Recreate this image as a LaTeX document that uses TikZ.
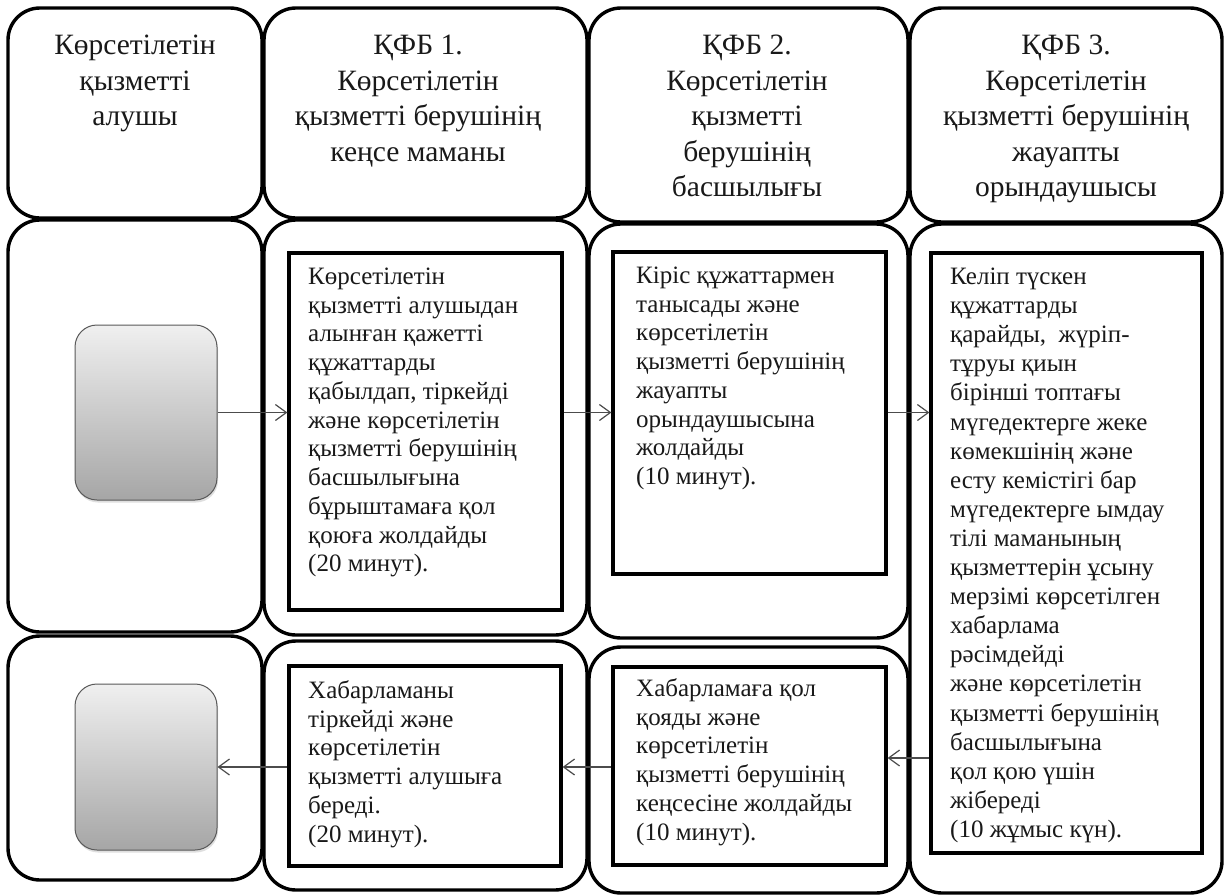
\documentclass[tikz,border=0pt]{standalone}
\usepackage{fontspec}
\setmainfont{Liberation Serif}
\usetikzlibrary{arrows.meta,positioning,fit,shadows,calc}
\begin{document}
\begin{tikzpicture}[x=1pt,y=-1pt,
  lane/.style={draw=black, line width=3.4pt, rounded corners=32pt, inner sep=0pt},
  box/.style={draw=black, line width=3.2pt, inner sep=0pt},
  gbox/.style={draw=black!65, line width=1pt, rounded corners=22pt, inner sep=0pt,
    top color=black!6, bottom color=black!35,
    drop shadow={opacity=0.25, shadow xshift=1pt, shadow yshift=-2.5pt}},
  hdr/.style={font=\fontsize{29.5}{35.5}\selectfont, align=center, inner sep=0pt, anchor=north, text=black!90},
  txt/.style={font=\fontsize{25}{28.75}\selectfont, align=left, inner sep=0pt, anchor=north west, text=black!90},
  arr/.style={draw=black!70, line width=1.2pt, -{Straight Barb[length=11pt,width=16pt,line width=1.2pt]}}
]
\useasboundingbox (0,0) rectangle (1225,894);
\fill[white] (0,0) rectangle (1225,894);

% header lanes
\node[lane, fit={(8,8) (262,218)}] (h1) {};
\node[lane, fit={(264,8) (587,218)}] (h2) {};
\node[lane, fit={(589,8) (908,222)}] (h3) {};
\node[lane, fit={(910,8) (1222,222)}] (h4) {};
% middle lanes
\node[lane, fit={(8,220) (262,632)}] (m1) {};
\node[lane, fit={(264,220) (587,635)}] (m2) {};
\node[lane, fit={(589,224) (908,638)}] (m3) {};
\node[lane, fit={(910,224) (1222,893)}] (m4) {};
% bottom lanes
\node[lane, fit={(8,636) (262,880)}] (b1) {};
\node[lane, fit={(264,641) (587,890)}] (b2) {};
\node[lane, fit={(589,647) (908,893)}] (b3) {};

% inner process boxes
\node[box, fit={(289,253) (562,610)}] (i2) {};
\node[box, fit={(613,252) (886,574)}] (i3) {};
\node[box, fit={(931,253) (1202,853)}] (i4) {};
\node[box, fit={(289,666) (561,866)}] (j2) {};
\node[box, fit={(613,667) (886,865)}] (j3) {};

% gray terminal boxes
\node[gbox, fit={(75,325) (217,500)}] (g1) {};
\node[gbox, fit={(75,684) (217,850)}] (g2) {};

% header texts
\node[hdr] (t1) at (135,29.5) {\strut Көрсетілетін\\қызметті\\алушы};
\node[hdr] (t2) at (418,29.5) {\strut ҚФБ 1.\\Көрсетілетін\\қызметті берушінің\\кеңсе маманы};
\node[hdr] (t3) at (747,29.5) {\strut ҚФБ 2.\\Көрсетілетін\\қызметті\\берушінің\\басшылығы};
\node[hdr] (t4) at (1066,29.5) {\strut ҚФБ 3.\\Көрсетілетін\\қызметті берушінің\\жауапты\\орындаушысы};

% body texts
\node[txt] (x2) at (308,264) {\strut Көрсетілетін\\қызметті алушыдан\\алынған қажетті\\құжаттарды\\қабылдап, тіркейді\\және көрсетілетін\\қызметті берушінің\\басшылығына\\бұрыштамаға қол\\қоюға жолдайды\\(20 минут).};
\node[txt] (x3) at (636,263) {\strut Кіріс құжаттармен\\танысады және\\көрсетілетін\\қызметті берушінің\\жауапты\\орындаушысына\\жолдайды\\(10 минут).};
\node[txt, font=\fontsize{25}{29.1}\selectfont] (x4) at (950,264) {\strut Келіп түскен\\құжаттарды\\қарайды,~ жүріп-\\тұруы қиын\\бірінші топтағы\\мүгедектерге жеке\\көмекшінің және\\есту кемістігі бар\\мүгедектерге ымдау\\тілі маманының\\қызметтерін ұсыну\\мерзімі көрсетілген\\хабарлама\\рәсімдейді\\және көрсетілетін\\қызметті берушінің\\басшылығына\\қол қою үшін\\жібереді\\(10 жұмыс күн).};
\node[txt] (y2) at (308,678) {\strut Хабарламаны\\тіркейді және\\көрсетілетін\\қызметті алушыға\\береді.\\(20 минут).};
\node[txt] (y3) at (636,676) {\strut Хабарламаға қол\\қояды және\\көрсетілетін\\қызметті берушінің\\кеңсесіне жолдайды\\(10 минут).};

% connectors
\coordinate (c4) at (931,758);
\draw[arr] (g1.east) -- (g1.east -| i2.west);
\draw[arr] (i2.east |- g1.east) -- (i3.west |- g1.east);
\draw[arr] (i3.east |- g1.east) -- (i4.west |- g1.east);
\draw[arr] (i4.west |- c4) -- (j3.east |- c4);
\draw[arr] (j3.west |- g2.east) -- (j2.east |- g2.east);
\draw[arr] (j2.west |- g2.east) -- (g2.east);
\end{tikzpicture}
\end{document}
